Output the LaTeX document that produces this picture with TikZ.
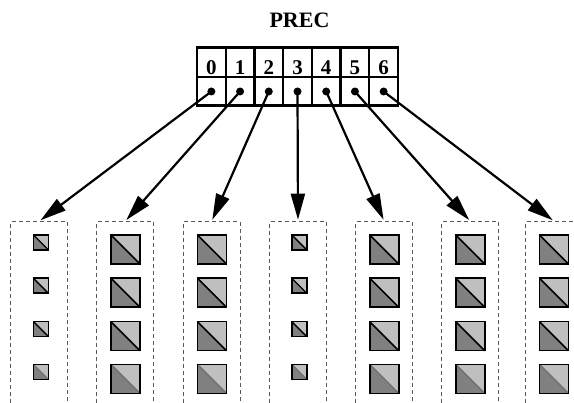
\documentclass[tikz,border=0pt]{standalone}
\usepackage{fontspec}
\setmainfont{Liberation Serif}
\usetikzlibrary{arrows.meta}

\definecolor{tileLight}{gray}{0.75}
\definecolor{tileDark}{gray}{0.5}
\definecolor{frameGray}{gray}{0.35}

% one split tile: left x, top y, side, style of the diagonal
\newcommand\splittile[4]{%
  \fill[tileLight] (#1,#2) -- ++(#3,0) -- ++(0,#3) -- cycle;
  \fill[tileDark]  (#1,#2) -- ++(0,#3) -- ++(#3,0) -- cycle;
  \draw[#4] (#1,#2) -- ++(#3,#3);
  \draw[line width=1.6pt] (#1,#2) rectangle ++(#3,#3);
}

\begin{document}
\begin{tikzpicture}[x=1pt,y=-1pt,
  cellnum/.style={font=\bfseries\fontsize{21}{21}\selectfont, anchor=base, inner sep=0pt},
  dot/.style={circle, fill=black, inner sep=0pt, minimum size=8pt},
  group/.style={draw=frameGray, dash pattern=on 4pt off 3pt, line width=1.3pt,
                minimum width=57pt, minimum height=220pt, anchor=north, inner sep=0pt},
  link/.style={line width=2.2pt, -{Triangle[length=26pt,width=14pt]}, shorten >=1.5pt}]
\useasboundingbox (0,0) rectangle (574,403);
\clip (0,0) rectangle (574,403);

% title
\node[font=\bfseries\fontsize{22}{22}\selectfont] (title) at (299.5,20.5) {PREC};

% the table with seven entries
\draw[line width=2.2pt] (197,47.5) rectangle (398,105.5);
\draw[line width=2.2pt] (197,77) -- (398,77);
\foreach \i in {1,...,6}
  \draw[line width=2.2pt] (197+28.714*\i,47.5) -- (197+28.714*\i,105.5);
\foreach \i in {0,...,6} {
  \node[cellnum] (n\i) at (211.36+28.714*\i,74.3) {\i};
  \node[dot] (d\i) at (211.36+28.714*\i,91.5) {};
}

% the seven groups
\node[group] (b0) at (39.3,221.2) {};
\node[group] (b1) at (125.3,221.2) {};
\node[group] (b2) at (211.7,221.2) {};
\node[group] (b3) at (298,221.2) {};
\node[group] (b4) at (384.2,221.2) {};
\node[group] (b5) at (470.2,221.2) {};
\node[group] (b6) at (554,221.2) {};

% connectors
\foreach \i in {0,...,6}
  \draw[link] (d\i.center) -- (b\i.north);

% tiles
\foreach \y/\dc in {235/black, 278.3/black, 321.7/black, 364.5/black!55} {
  \splittile{33.5}{\y}{15}{line width=1.4pt,\dc}
  \splittile{291.8}{\y}{15}{line width=1.4pt,\dc}
  \foreach \cx in {125.5,212,384.2,470.3,554} {
    \splittile{\cx-14.5}{\y}{29}{line width=1.6pt,\dc}
  }
}
\end{tikzpicture}
\end{document}
